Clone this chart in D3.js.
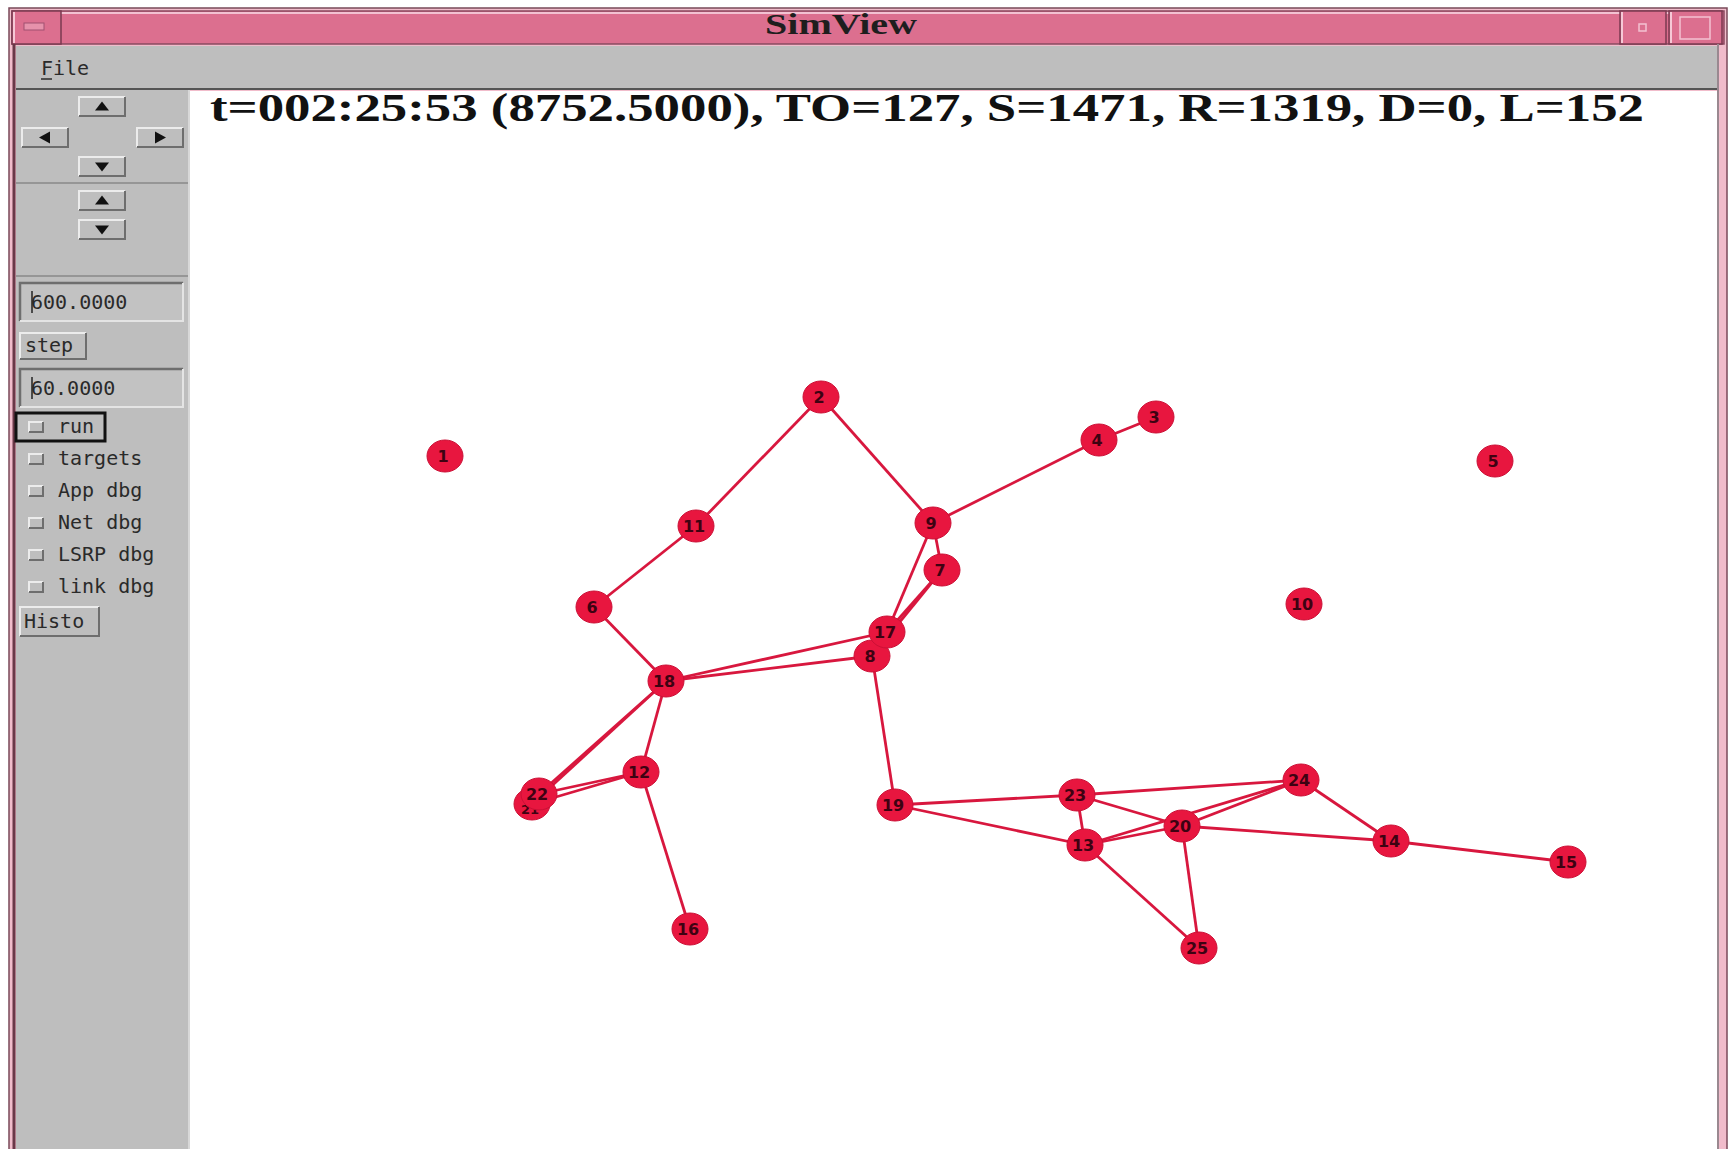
<!DOCTYPE html>
<html>
<head>
<meta charset="utf-8">
<script src="https://cdn.jsdelivr.net/npm/d3@7"></script>
<style>
  body { margin: 0; background: #fff; }
  svg { display: block; }
  .mono { font-family: "DejaVu Sans Mono", "Liberation Mono", monospace; fill: #2a2a2a; }
</style>
</head>
<body>
<svg id="win" width="1728" height="1149"></svg>
<script>
// window texts
const windowTitle = "SimView";
const statusLine = "t=002:25:53 (8752.5000), TO=127, S=1471, R=1319, D=0, L=152";
const horizonValue = "600.0000";
const stepValue = "60.0000";
const toggleLabels = ["targets", "App dbg", "Net dbg", "LSRP dbg", "link dbg"];

// node positions in field units (canvas-relative)
const nodeIds = [1, 2, 3, 4, 5, 6, 7, 8, 9, 10, 11, 12, 13, 14, 15, 16, 17, 18, 19, 20, 21, 22, 23, 24, 25];
const nodeX = [255, 631, 966, 909, 1305, 404, 752, 682, 743, 1114, 506, 451, 895, 1201, 1378, 500, 697, 476, 705, 992, 342, 349, 887, 1111, 1009];
const nodeY = [365, 306, 326, 349, 370, 516, 479, 565, 432, 513, 435, 681, 754, 750, 771, 838, 541, 590, 714, 735, 713, 703, 704, 689, 857];

// links
const linkFrom = [2, 2, 11, 6, 9, 4, 9, 9, 7, 7, 18, 18, 8, 18, 18, 18, 12, 12, 12, 19, 19, 23, 23, 23, 13, 13, 20, 20, 20, 13, 24, 14];
const linkTo   = [11, 9, 6, 18, 4, 3, 7, 17, 17, 8, 17, 8, 19, 22, 21, 12, 22, 21, 16, 23, 13, 13, 20, 24, 20, 24, 24, 14, 25, 25, 14, 15];

const svg = d3.select("#win");
const gray = "#bebebe", light = "#ececec", dark = "#6e6e6e";

// ---- frame ----
svg.append("rect").attr("x", 9).attr("y", 8).attr("width", 1718).attr("height", 1150)
  .attr("fill", "#f1bccb").attr("stroke", "#7a4a5a").attr("stroke-width", 1.5);
svg.append("rect").attr("x", 12).attr("y", 11).attr("width", 1712).attr("height", 33)
  .attr("fill", "#dc6f8f").attr("stroke", "#8a4a60").attr("stroke-width", 1.5);
svg.append("line").attr("x1", 13).attr("x2", 1722).attr("y1", 13).attr("y2", 13)
  .attr("stroke", "#f3c2d2").attr("stroke-width", 2);

function tbButton(x, w) {
  svg.append("rect").attr("x", x).attr("y", 11).attr("width", w).attr("height", 33)
    .attr("fill", "#dc6f8f").attr("stroke", "#7a3a50").attr("stroke-width", 1.5);
  svg.append("line").attr("x1", x + 2).attr("x2", x + 2).attr("y1", 12).attr("y2", 43)
    .attr("stroke", "#f6c8d6").attr("stroke-width", 2);
}
tbButton(12, 49);
svg.append("rect").attr("x", 24).attr("y", 23).attr("width", 20).attr("height", 7)
  .attr("fill", "#e692ab").attr("stroke", "#a05070");
tbButton(1620, 46);
svg.append("rect").attr("x", 1639).attr("y", 24).attr("width", 7).attr("height", 7)
  .attr("fill", "none").attr("stroke", "#f3c2d2").attr("stroke-width", 1.5);
tbButton(1669, 53);
svg.append("rect").attr("x", 1680).attr("y", 17).attr("width", 30).attr("height", 22)
  .attr("fill", "none").attr("stroke", "#f3c2d2").attr("stroke-width", 1.5);

svg.append("text").attr("x", 841).attr("y", 34).attr("text-anchor", "middle")
  .attr("font-family", "Liberation Serif, serif").attr("font-weight", "bold").attr("font-size", 30)
  .attr("textLength", 152).attr("lengthAdjust", "spacingAndGlyphs")
  .attr("fill", "#1e1e1e").text(windowTitle);

// side borders
svg.append("line").attr("x1", 14).attr("x2", 14).attr("y1", 44).attr("y2", 1149)
  .attr("stroke", "#6a3848").attr("stroke-width", 3);
svg.append("line").attr("x1", 1718).attr("x2", 1718).attr("y1", 44).attr("y2", 1149)
  .attr("stroke", "#9a8890").attr("stroke-width", 2);

// ---- menu bar ----
svg.append("rect").attr("x", 16).attr("y", 46).attr("width", 1701).attr("height", 43).attr("fill", gray);
svg.append("line").attr("x1", 16).attr("x2", 1717).attr("y1", 89).attr("y2", 89).attr("stroke", "#555").attr("stroke-width", 2);
svg.append("text").attr("class", "mono").attr("x", 41).attr("y", 75).attr("font-size", 20).text("File");
svg.append("line").attr("x1", 41).attr("x2", 52).attr("y1", 79).attr("y2", 79).attr("stroke", "#2a2a2a").attr("stroke-width", 1.5);

// ---- left panel ----
svg.append("rect").attr("x", 16).attr("y", 90).attr("width", 173).attr("height", 1059).attr("fill", gray);
svg.append("line").attr("x1", 189).attr("x2", 189).attr("y1", 90).attr("y2", 1149).attr("stroke", "#d8d8d8").attr("stroke-width", 2);
// canvas
svg.append("rect").attr("x", 190).attr("y", 91).attr("width", 1527).attr("height", 1058).attr("fill", "#fff");

function raised(x, y, w, h) {
  svg.append("rect").attr("x", x).attr("y", y).attr("width", w).attr("height", h).attr("fill", gray);
  svg.append("path").attr("d", `M${x},${y + h}V${y}H${x + w}`).attr("fill", "none").attr("stroke", light).attr("stroke-width", 2);
  svg.append("path").attr("d", `M${x},${y + h}H${x + w}V${y}`).attr("fill", "none").attr("stroke", dark).attr("stroke-width", 2);
}
function sunken(x, y, w, h) {
  svg.append("rect").attr("x", x).attr("y", y).attr("width", w).attr("height", h).attr("fill", "#c2c2c2");
  svg.append("path").attr("d", `M${x},${y + h}V${y}H${x + w}`).attr("fill", "none").attr("stroke", dark).attr("stroke-width", 2.5);
  svg.append("path").attr("d", `M${x},${y + h}H${x + w}V${y}`).attr("fill", "none").attr("stroke", "#e4e4e4").attr("stroke-width", 2);
}
function arrowBtn(x, y, dir) {
  raised(x, y, 46, 19);
  const cx = x + 23, cy = y + 9.5;
  const tri = {
    up: [[cx - 7, cy + 4], [cx + 7, cy + 4], [cx, cy - 5]],
    down: [[cx - 7, cy - 4], [cx + 7, cy - 4], [cx, cy + 5]],
    left: [[cx + 5, cy - 6], [cx + 5, cy + 6], [cx - 6, cy]],
    right: [[cx - 5, cy - 6], [cx - 5, cy + 6], [cx + 6, cy]]
  }[dir];
  svg.append("path").attr("d", d3.line()(tri) + "Z").attr("fill", "#111");
}
arrowBtn(79, 97, "up");
arrowBtn(22, 128, "left");
arrowBtn(137, 128, "right");
arrowBtn(79, 157, "down");
svg.append("line").attr("x1", 16).attr("x2", 188).attr("y1", 183).attr("y2", 183).attr("stroke", "#888").attr("stroke-width", 1.5);
arrowBtn(79, 191, "up");
arrowBtn(79, 220, "down");
svg.append("line").attr("x1", 16).attr("x2", 188).attr("y1", 276).attr("y2", 276).attr("stroke", "#888").attr("stroke-width", 1.5);

sunken(20, 283, 163, 38);
svg.append("text").attr("class", "mono").attr("x", 31).attr("y", 309).attr("font-size", 20).text(horizonValue);
svg.append("line").attr("x1", 32).attr("x2", 32).attr("y1", 291).attr("y2", 313).attr("stroke", "#222").attr("stroke-width", 1.5);

raised(20, 333, 66, 26);
svg.append("text").attr("class", "mono").attr("x", 25).attr("y", 352).attr("font-size", 20).text("step");

sunken(20, 369, 163, 38);
svg.append("text").attr("class", "mono").attr("x", 31).attr("y", 395).attr("font-size", 20).text(stepValue);
svg.append("line").attr("x1", 32).attr("x2", 32).attr("y1", 377).attr("y2", 399).attr("stroke", "#222").attr("stroke-width", 1.5);

// run toggle with focus border
svg.append("rect").attr("x", 16).attr("y", 413).attr("width", 89).attr("height", 28)
  .attr("fill", "none").attr("stroke", "#111").attr("stroke-width", 3);
const toggles = ["run"].concat(toggleLabels);
toggles.forEach((t, i) => {
  const y = 427 + i * 32;
  raised(29, y - 5, 14, 10);
  svg.append("text").attr("class", "mono").attr("x", 58).attr("y", y + 6).attr("font-size", 20).text(t);
});

raised(20, 607, 79, 29);
svg.append("text").attr("class", "mono").attr("x", 24).attr("y", 628).attr("font-size", 20).text("Histo");

// ---- network canvas ----
svg.append("text").attr("x", 210).attr("y", 121)
  .attr("font-family", "Liberation Serif, serif").attr("font-weight", "bold").attr("font-size", 40)
  .attr("textLength", 1434).attr("lengthAdjust", "spacingAndGlyphs").attr("fill", "#111").text(statusLine);

const x = d3.scaleLinear().domain([0, 1527]).range([190, 1717]);
const y = d3.scaleLinear().domain([0, 1058]).range([91, 1149]);

const nodes = nodeIds.map((id, i) => ({ id: id, fx: nodeX[i], fy: nodeY[i] }));
const byId = new Map(nodes.map(d => [d.id, d]));
const links = linkFrom.map((s, i) => ({ source: byId.get(s), target: byId.get(linkTo[i]) }));

const net = svg.append("g");
net.selectAll("line.link")
  .data(links)
  .join("line")
  .attr("class", "link")
  .attr("x1", d => x(d.source.fx))
  .attr("y1", d => y(d.source.fy))
  .attr("x2", d => x(d.target.fx))
  .attr("y2", d => y(d.target.fy))
  .attr("stroke", "#d8173e")
  .attr("stroke-width", 2.8);

const ng = net.selectAll("g.node")
  .data(nodes)
  .join("g")
  .attr("class", "node")
  .attr("transform", d => `translate(${x(d.fx)},${y(d.fy)})`);

ng.append("ellipse")
  .attr("rx", 18)
  .attr("ry", 16)
  .attr("fill", "#e8163f")
  .attr("stroke", "#cc1036")
  .attr("stroke-width", 1);

// node 21 sits under 22 in the reference; its label is mostly hidden there
ng.append("text")
  .attr("x", -2)
  .attr("y", d => d.id === 21 ? 10 : 6)
  .attr("text-anchor", "middle")
  .attr("font-family", "DejaVu Sans, sans-serif")
  .attr("font-weight", "bold")
  .attr("font-size", d => d.id === 21 ? 13 : 16)
  .attr("fill", "#3e0212")
  .text(d => d.id);
</script>
</body>
</html>
